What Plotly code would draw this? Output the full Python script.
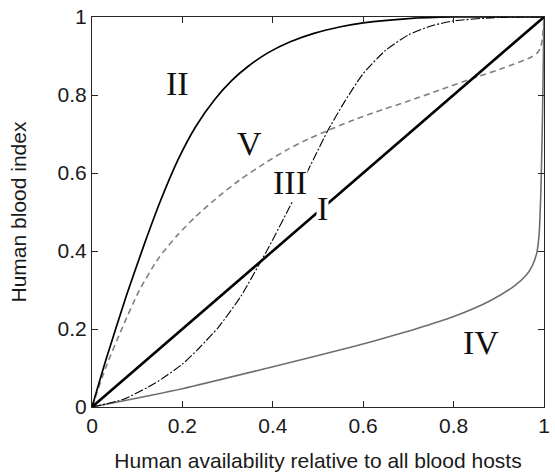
import plotly.graph_objects as go

# Curve I (linear)
x_I = [0.0, 1.0]
y_I = [0.0, 1.0]

# Curve II (concave, fast saturation)
x_II = [0.0, 0.03, 0.076, 0.115, 0.152, 0.192, 0.23, 0.272, 0.31, 0.345, 0.389, 0.44, 0.491, 0.55, 0.6, 0.7, 0.8, 1.0]
y_II = [0.0, 0.118, 0.285, 0.415, 0.53, 0.638, 0.72, 0.789, 0.838, 0.873, 0.908, 0.937, 0.958, 0.975, 0.985, 0.996, 1.0, 1.0]

# Curve III (sigmoid, dash-dot)
x_III = [0.0, 0.07, 0.141, 0.2, 0.236, 0.28, 0.33, 0.367, 0.389, 0.447, 0.49, 0.52, 0.56, 0.6, 0.65, 0.7, 0.75, 0.8, 0.9, 1.0]
y_III = [0.0, 0.02, 0.062, 0.11, 0.15, 0.205, 0.285, 0.36, 0.405, 0.535, 0.635, 0.705, 0.785, 0.855, 0.915, 0.954, 0.977, 0.99, 0.999, 1.0]

# Curve IV (low, vertical rise at 1)
x_IV = [0.0, 0.2, 0.389, 0.585, 0.672, 0.716, 0.8, 0.88, 0.934, 0.96, 0.974, 0.984, 0.989, 0.993, 0.996, 0.998, 1.0]
y_IV = [0.0, 0.047, 0.1, 0.157, 0.185, 0.2, 0.232, 0.272, 0.31, 0.337, 0.362, 0.395, 0.44, 0.55, 0.7, 0.85, 1.0]

# Curve V (dashed grey)
x_V = [0.0, 0.03, 0.068, 0.105, 0.148, 0.19, 0.229, 0.272, 0.33, 0.389, 0.432, 0.48, 0.52, 0.57, 0.629, 0.694, 0.77, 0.843, 0.91, 0.97, 0.985, 0.993, 0.997, 1.0]
y_V = [0.0, 0.1, 0.206, 0.3, 0.383, 0.442, 0.488, 0.532, 0.585, 0.63, 0.66, 0.688, 0.708, 0.732, 0.757, 0.782, 0.813, 0.843, 0.869, 0.896, 0.908, 0.924, 0.95, 1.0]

# Curve labels
label_text = ["II", "V", "III", "I", "IV"]
label_x = [0.19, 0.348, 0.437, 0.509, 0.86]
label_y = [0.829, 0.675, 0.576, 0.51, 0.166]

tick_vals = [0, 0.2, 0.4, 0.6, 0.8, 1]
tick_text = ["0", "0.2", "0.4", "0.6", "0.8", "1"]

fig = go.Figure()
fig.add_trace(go.Scatter(x=x_IV, y=y_IV, mode="lines", line=dict(color="#6e6e6e", width=1.6, shape="spline", smoothing=0.6)))
fig.add_trace(go.Scatter(x=x_V, y=y_V, mode="lines", line=dict(color="#808080", width=1.6, dash="6px,4px", shape="spline", smoothing=0.6)))
fig.add_trace(go.Scatter(x=x_III, y=y_III, mode="lines", line=dict(color="black", width=1.1, dash="9px,2px,2px,2px", shape="spline", smoothing=0.6)))
fig.add_trace(go.Scatter(x=x_II, y=y_II, mode="lines", line=dict(color="black", width=1.7, shape="spline", smoothing=0.6)))
fig.add_trace(go.Scatter(x=x_I, y=y_I, mode="lines", line=dict(color="black", width=2.6)))

for t, lx, ly in zip(label_text, label_x, label_y):
    fig.add_annotation(x=lx, y=ly, text=t, showarrow=False, xref="x", yref="y",
                       font=dict(family="Liberation Serif", size=34, color="#111"),
                       bgcolor="white", borderpad=0)

axis_common = dict(range=[0, 1], tickvals=tick_vals, ticktext=tick_text, ticks="inside", ticklen=6,
                   tickcolor="#262626", showline=True, linecolor="#262626", linewidth=1.2, mirror="ticks",
                   showgrid=False, zeroline=False,
                   tickfont=dict(family="Liberation Sans", size=21, color="#1a1a1a"))

fig.update_xaxes(**axis_common, title=dict(text="Human availability relative to all blood hosts",
                 font=dict(family="Liberation Sans", size=21, color="#1a1a1a"), standoff=17))
fig.update_yaxes(**axis_common, title=dict(text="Human blood index",
                 font=dict(family="Liberation Sans", size=21, color="#1a1a1a"), standoff=25))

fig.update_layout(width=555, height=474, margin=dict(l=92, r=5, t=17, b=63),
                  plot_bgcolor="white", paper_bgcolor="white", showlegend=False)

fig.write_html("out.html", config={"displayModeBar": False},
               post_script="document.body.style.margin='0px';document.body.style.overflow='hidden';")
